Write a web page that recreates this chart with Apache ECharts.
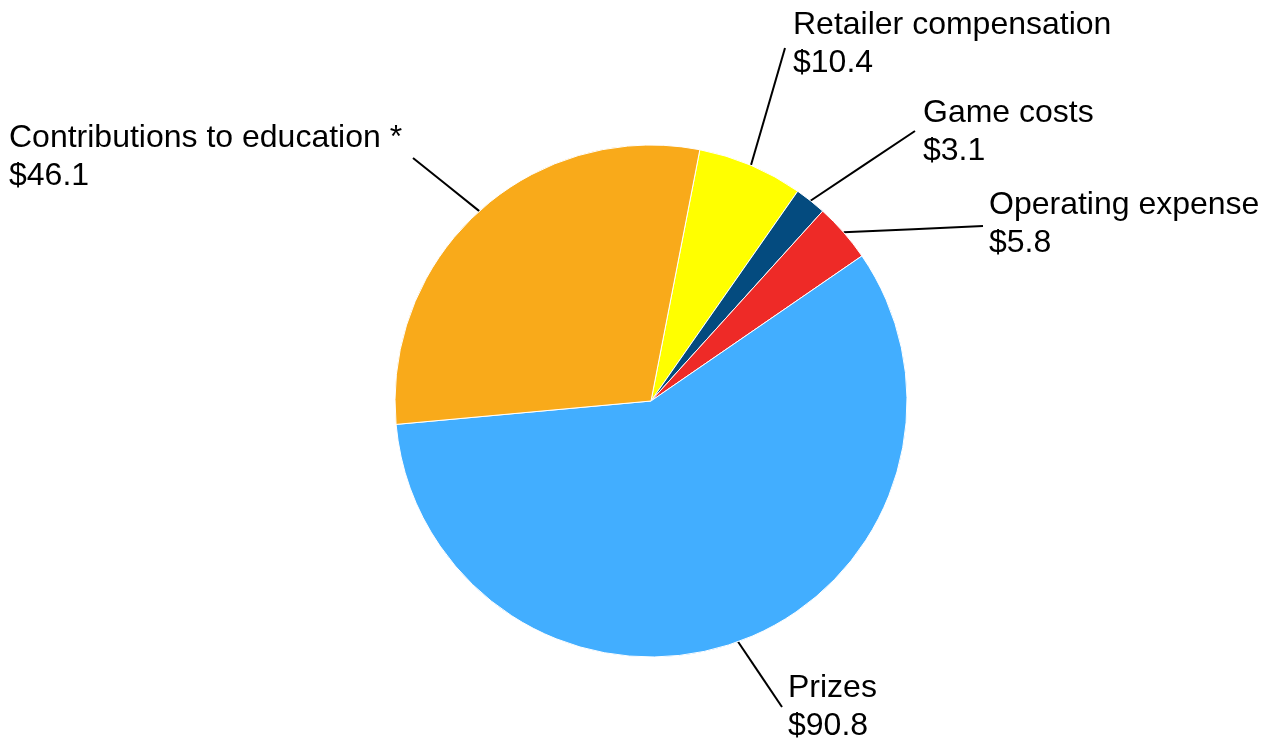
<!DOCTYPE html>
<html>
<head>
<meta charset="utf-8">
<script src="https://cdn.jsdelivr.net/npm/echarts@6/dist/echarts.min.js"></script>
<style>
html,body{margin:0;padding:0;background:#fff;}
#chart{width:1272px;height:742px;}
</style>
</head>
<body>
<div id="chart"></div>
<script>
// Data (clockwise order starting near 12 o'clock)
var categories = ['Retailer compensation', 'Game costs', 'Operating expense', 'Prizes', 'Contributions to education *'];
var values = [10.4, 3.1, 5.8, 90.8, 46.1];

// Styling / layout (not data)
var colors = ['#FFFF00', '#044B7F', '#EE2A27', '#42AEFF', '#F9AA1A'];
// label anchor (left, vertical middle) and label-line end point, in px
var labelAnchors = [[793, 44], [923, 132], [989, 224], [788, 707], [9, 157]];
var lineEnds = [[785, 48], [915, 131], [983, 226], [782, 707], [413, 158]];

var chart = echarts.init(document.getElementById('chart'), null, {renderer: 'canvas'});
var seriesData = categories.map(function (name, i) {
  return { name: name, value: values[i], itemStyle: { color: colors[i] } };
});

chart.setOption({
  backgroundColor: '#ffffff',
  animation: false,
  series: [{
    type: 'pie',
    center: [651, 401],
    radius: 256,
    startAngle: 79,
    clockwise: true,
    avoidLabelOverlap: false,
    itemStyle: { borderColor: '#ffffff', borderWidth: 1 },
    label: {
      show: true,
      position: 'outside',
      formatter: function (p) { return p.name + '\n$' + p.value.toFixed(1); },
      fontFamily: '"Liberation Sans", Arial, sans-serif',
      fontSize: 32,
      lineHeight: 38,
      color: '#000000'
    },
    labelLine: {
      show: true,
      length: 20,
      length2: 10,
      smooth: false,
      lineStyle: { color: '#000000', width: 2 }
    },
    labelLayout: function (params) {
      var i = params.dataIndex;
      var p0 = params.labelLinePoints ? params.labelLinePoints[0] : lineEnds[i];
      var pe = lineEnds[i];
      var pm = [(p0[0] + pe[0]) / 2, (p0[1] + pe[1]) / 2];
      return {
        x: labelAnchors[i][0],
        y: labelAnchors[i][1],
        align: 'left',
        verticalAlign: 'middle',
        labelLinePoints: [p0, pm, pe]
      };
    },
    emphasis: { disabled: true },
    data: seriesData
  }]
});
</script>
</body>
</html>
